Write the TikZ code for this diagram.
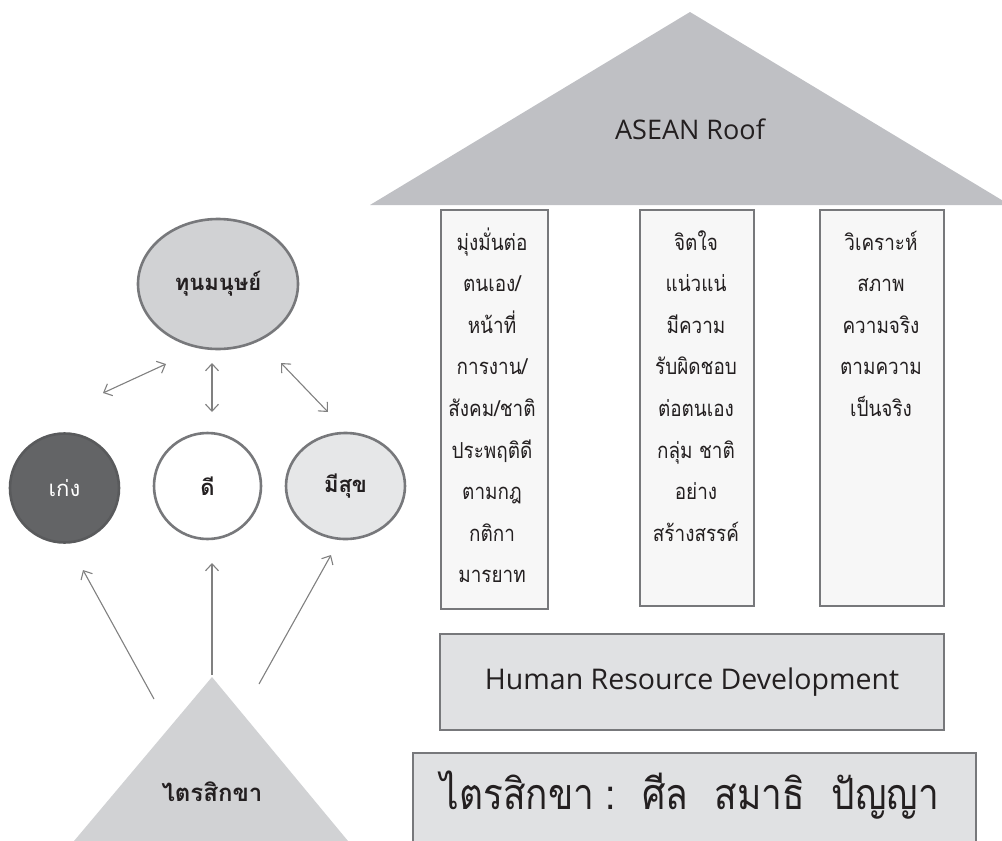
\documentclass[tikz,border=0pt]{standalone}
\usepackage{fontspec}
\usetikzlibrary{shapes.geometric,arrows.meta}
\newfontfamily\thaifont[Script=Thai]{Loma}
\newfontfamily\thainarrow[Script=Thai,FakeStretch=0.86]{Loma}
\newfontfamily\latinfont{Open Sans}
\definecolor{roofgray}{HTML}{BFC0C4}
\definecolor{pillarfill}{HTML}{F7F7F7}
\definecolor{edgegray}{HTML}{77787B}
\definecolor{boxfill}{HTML}{E0E1E3}
\definecolor{hcfill}{HTML}{D1D2D4}
\definecolor{darkfill}{HTML}{636466}
\definecolor{lightfill}{HTML}{E6E7E8}
\definecolor{txt}{HTML}{231F20}
\definecolor{arrowgray}{HTML}{808080}
\tikzset{
  pillarbox/.style={draw=edgegray, line width=2.6pt, fill=pillarfill, rectangle, inner sep=0pt},
  barbox/.style={draw=edgegray, line width=2.6pt, fill=boxfill, rectangle, inner sep=0pt},
  pilltext/.style={anchor=base, text=txt, inner sep=0pt, font=\thainarrow\fontsize{22}{26}\selectfont},
  circnode/.style={ellipse, draw=edgegray, line width=2.6pt, inner sep=0pt, text=txt,
    font=\thaifont\bfseries\fontsize{22}{26}\selectfont},
  link/.style={draw=arrowgray, line width=1.1pt, {Straight Barb[length=7pt,width=13pt]}-{Straight Barb[length=7pt,width=13pt]}},
  uplink/.style={draw=arrowgray, line width=1.1pt, -{Straight Barb[length=7pt,width=13pt]}},
}
\begin{document}
\begin{tikzpicture}[x=1pt,y=-1pt]
\useasboundingbox (0,0) rectangle (1002,841);
\clip (0,0) rectangle (1002,841);

% ---------- roof ----------
\fill[roofgray] (370,205) -- (690,12) -- (1010,205) -- cycle;
\node[text=txt, font=\latinfont\fontsize{27}{30}\selectfont, anchor=base] (rooftext) at (690,139) {ASEAN Roof};

% ---------- pillars ----------
\node[pillarbox, minimum width=107pt, minimum height=399pt] (p1) at (494.5,409.5) {};
\node[pillarbox, minimum width=114pt, minimum height=396pt] (p2) at (697,408) {};
\node[pillarbox, minimum width=124pt, minimum height=396pt] (p3) at (882,408) {};

\foreach \t [count=\i] in {มุ่งมั่นต่อ,ตนเอง/,หน้าที่,การงาน/,สังคม/ชาติ,ประพฤติดี,ตามกฎ,กติกา,มารยาท}
  \node[pilltext] (p1t\i) at (492,250+41.6*\i-41.6) {\t};
\foreach \t [count=\i] in {จิตใจ,แน่วแน่,มีความ,รับผิดชอบ,ต่อตนเอง,กลุ่ม ชาติ,อย่าง,สร้างสรรค์}
  \node[pilltext] (p2t\i) at (696,250+41.6*\i-41.6) {\t};
\foreach \t [count=\i] in {วิเคราะห์,สภาพ,ความจริง,ตามความ,เป็นจริง}
  \node[pilltext] (p3t\i) at (881,250+41.6*\i-41.6) {\t};

% ---------- HRD bar ----------
\node[barbox, minimum width=504pt, minimum height=96pt, text=txt,
      font=\latinfont\fontsize{28.5}{31}\selectfont] (hrd) at (692,682) {Human Resource Development};

% ---------- base bar ----------
\node[barbox, minimum width=563pt, minimum height=110pt] (base) at (694.5,808) {};
\node[anchor=base, text=txt, inner sep=0pt, font=\thainarrow\fontsize{43}{50}\selectfont] (basetext) at (690,809)
  {ไตรสิกขา\hspace{0.25em}:\hspace{0.62em}ศีล\hspace{0.62em}สมาธิ\hspace{0.62em}ปัญญา};

% ---------- left: human capital ----------
\node[circnode, fill=hcfill, minimum width=160pt, minimum height=130pt] (hc) at (218,284) {ทุนมนุษย์};
\node[circnode, fill=darkfill, draw=darkfill!90!black, minimum width=109pt, minimum height=109pt,
      text=white, font=\thaifont\fontsize{22}{26}\selectfont] (keng) at (64.5,488) {เก่ง};
\node[circnode, fill=white, minimum width=107pt, minimum height=106pt] (dee) at (207.5,486) {ดี};
\node[circnode, fill=lightfill, minimum width=119pt, minimum height=106pt] (mesuk) at (345.5,486) {มีสุข};

\coordinate (a1s) at (103,393); \coordinate (a1e) at (166,364);
\coordinate (a2s) at (212,363); \coordinate (a2e) at (212,412);
\coordinate (a3s) at (281,363); \coordinate (a3e) at (328,412);
\draw[link] (a1s) -- (a1e);
\draw[link] (a2s) -- (a2e);
\draw[link] (a3s) -- (a3e);

% ---------- triangle ----------
\fill[hcfill] (212,677) -- (348,841) -- (74,841) -- cycle;
\node[anchor=base, text=txt, inner sep=0pt, font=\thaifont\bfseries\fontsize{24}{28}\selectfont] (tritext) at (212,801) {ไตรสิกขา};

\coordinate (tL) at (154,699); \coordinate (tM) at (212,675); \coordinate (tR) at (259,684);
\coordinate (hL) at (83,570); \coordinate (hM) at (212,563); \coordinate (hR) at (331,555);
\draw[uplink] (tL) -- (hL);
\draw[uplink] (tM) -- (hM);
\draw[uplink] (tR) -- (hR);
\end{tikzpicture}
\end{document}
